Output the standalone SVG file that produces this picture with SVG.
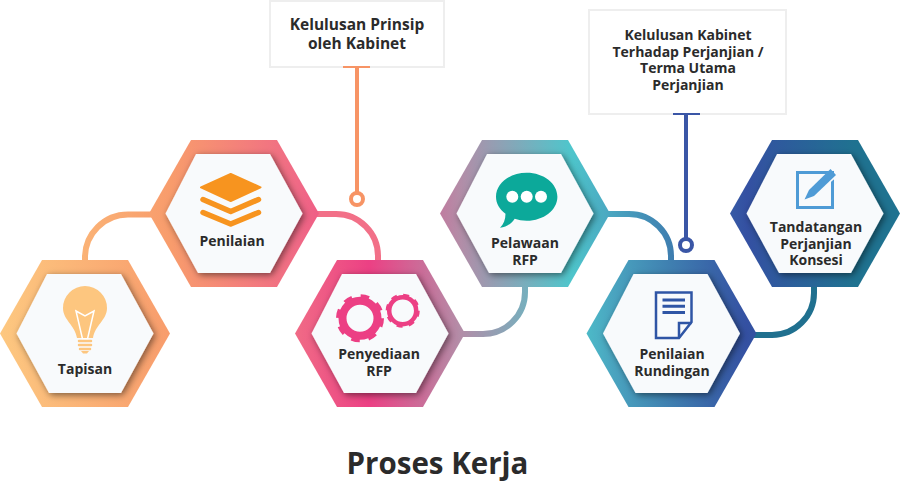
<svg xmlns="http://www.w3.org/2000/svg" width="900" height="489" viewBox="0 0 900 489">
<style>
text{font-family:"Open Sans","Noto Sans","Liberation Sans",sans-serif;font-weight:700;fill:#2b2b2b;text-anchor:middle;font-size:14px}
.title{font-size:29.500px}
.big{font-size:15.500px}
.box{fill:#fff;stroke:#eeeeee;stroke-width:2}
.outer{fill:url(#g)}
.inner{fill:#f8fafc;filter:url(#s)}
.conn{fill:none;stroke:url(#g);stroke-width:6}
</style>
<defs>
<linearGradient id="g" gradientUnits="userSpaceOnUse" x1="0" y1="0" x2="900" y2="0">
<stop offset="0" stop-color="#fdc880"/>
<stop offset=".19" stop-color="#f89c6c"/>
<stop offset=".33" stop-color="#f06a86"/>
<stop offset=".41" stop-color="#ec4084"/>
<stop offset=".51" stop-color="#b48ca7"/>
<stop offset=".635" stop-color="#4ec6cc"/>
<stop offset=".68" stop-color="#4aa5c0"/>
<stop offset=".745" stop-color="#3f7fb0"/>
<stop offset=".83" stop-color="#3450a2"/>
<stop offset=".95" stop-color="#1f7290"/>
</linearGradient>
<filter id="s" x="-20%" y="-20%" width="140%" height="140%"><feDropShadow dx="2" dy="2" stdDeviation="3.500" flood-color="#000" flood-opacity=".5"/></filter>
</defs>
<g id="connectors">
<path class="conn" d="M85 262V257.500A43 43 0 0 1 128 214.500H152"/>
<path class="conn" style="stroke:#f27088" d="M316 214H336A42 42 0 0 1 378 256V262"/>
<path class="conn" d="M525 285V292A42 42 0 0 1 483 334H462"/>
<path class="conn" d="M608 214H629A42 42 0 0 1 671 256V262"/>
<path class="conn" style="stroke:#20708f" d="M814 285V293A42 42 0 0 1 772 335H753"/>
</g>
<g id="node-tapisan">
<polygon class="outer" points="0,333.500 42,260 128,260 170,333.500 128,407 42,407"/>
<polygon class="inner" points="16.500,333.500 47,274 121,274 153.500,333.500 121,393 49,393"/>
<path fill="#fdc67f" d="M85 286a22 22 0 0 1 22 22c0 12-12 17-14 30h-16c-2-13-14-18-14-30a22 22 0 0 1 22-22z"/>
<path fill="none" stroke="#fff" stroke-width="1.500" d="M76 311L85 316L94 311L87.500 339H82.500z"/>
<path stroke="#fdc67f" stroke-width="2.500" stroke-linecap="round" d="M79 341H91M79 345H91M80 349H90"/>
<path fill="#fdc67f" d="M81 351h8l-2 2.500h-4z"/>
<text x="85" y="374">Tapisan</text>
</g>
<g id="node-penilaian">
<polygon class="outer" points="149,213.500 191,140 277,140 319,213.500 277,287 191,287"/>
<polygon class="inner" points="165.500,213.500 196,154 270,154 302.500,213.500 270,273 198,273"/>
<path fill="#f7941f" stroke="#f7941f" stroke-width="2" stroke-linejoin="round" d="M230.700 174L260.500 187.300L230.700 201L201 187.300z"/>
<path fill="none" stroke="#f7941f" stroke-width="5.500" stroke-linecap="round" stroke-linejoin="round" d="M203 199.500L230.700 211.500L258.500 199.500M203 212.500L230.700 224L258.500 212.500"/>
<text x="232" y="246">Penilaian</text>
</g>
<g id="node-penyediaan">
<polygon class="outer" points="295,333.500 337,260 423,260 465,333.500 423,407 337,407"/>
<polygon class="inner" points="311.500,333.500 342,274 416,274 448.500,333.500 416,393 344,393"/>
<g fill="none" stroke="#ec3f84">
<circle cx="360" cy="318.300" r="17.500" stroke-width="8"/>
<circle cx="360" cy="318.300" r="22" stroke-width="4" stroke-dasharray="8.500 8.780"/>
<circle cx="402.700" cy="310.700" r="13.500" stroke-width="4.500"/>
<circle cx="402.700" cy="310.700" r="15.800" stroke-width="2.500" stroke-dasharray="6 6.410"/>
</g>
<text x="379" y="359">Penyediaan<tspan x="379" dy="17">RFP</tspan></text>
</g>
<g id="node-pelawaan">
<polygon class="outer" points="440,213.500 482,140 568,140 610,213.500 568,287 482,287"/>
<polygon class="inner" points="456.500,213.500 487,154 561,154 593.500,213.500 561,273 489,273"/>
<path fill="#0ca99a" d="M526.700 172.700c17 0 30.700 10.700 30.700 24s-13.700 24-30.700 24c-4.500 0-8.500-.7-12-2-3.500 5-8.500 9-14.700 9 3.500-3.500 5.500-8 5.500-14-5.800-4.300-9.500-10.300-9.500-17 0-13.300 13.700-24 30.700-24z"/>
<g fill="#fff"><circle cx="512.300" cy="196.700" r="6"/><circle cx="526.700" cy="196.700" r="6"/><circle cx="541" cy="196.700" r="6"/></g>
<text x="525" y="248">Pelawaan<tspan x="525" dy="17">RFP</tspan></text>
</g>
<g id="node-rundingan">
<polygon class="outer" points="586.500,333.500 628.500,260 714.500,260 756.500,333.500 714.500,407 628.500,407"/>
<polygon class="inner" points="603,333.500 633.500,274 707.500,274 740,333.500 707.500,393 635.500,393"/>
<g fill="none" stroke="#2f55a5" stroke-width="2.500">
<path d="M656 292.500H691.500V322L679 338H656z"/>
<path d="M679 338V323H691.500"/>
<path stroke-width="3" d="M662.500 300H685M662.500 306.300H685M662.500 312.500H685"/>
</g>
<text x="672" y="359">Penilaian<tspan x="672" dy="17">Rundingan</tspan></text>
</g>
<g id="node-tandatangan">
<polygon class="outer" points="730,213.500 772,140 858,140 900,213.500 858,287 772,287"/>
<polygon class="inner" points="746.500,213.500 777,154 851,154 883.500,213.500 851,273 779,273"/>
<rect x="797.500" y="172.500" width="35" height="35" fill="none" stroke="#4f9bd6" stroke-width="3"/>
<path stroke="#f8fafc" stroke-width="9" d="M808 195.500L832 175"/>
<path fill="#4f9bd6" d="M830.500 169L836 175L814 196L804.500 199.500L809 190z"/>
<text x="816" y="232">Tandatangan<tspan x="816" dy="16.500">Perjanjian</tspan><tspan x="816" dy="16.500">Konsesi</tspan></text>
</g>
<g id="node-kelulusan-prinsip">
<rect class="box" x="270" y="1" width="174" height="66"/>
<text class="big" x="357" y="29.500">Kelulusan Prinsip<tspan x="357" dy="19">oleh Kabinet</tspan></text>
<path fill="none" stroke="#f79465" stroke-width="4" d="M357 67V193"/>
<path fill="none" stroke="#f79465" stroke-width="2" d="M343 67H370"/>
<circle cx="357" cy="199" r="6" fill="#fff" stroke="#f79465" stroke-width="4"/>
</g>
<g id="node-kelulusan-kabinet">
<rect class="box" x="589" y="10" width="197" height="104"/>
<text x="688" y="40">Kelulusan Kabinet<tspan x="688" dy="16.700">Terhadap Perjanjian /</tspan><tspan x="688" dy="16.700">Terma Utama</tspan><tspan x="688" dy="16.700">Perjanjian</tspan></text>
<path fill="none" stroke="#3a56a6" stroke-width="4" d="M686 114V239"/>
<path fill="none" stroke="#3a56a6" stroke-width="2" d="M673 114H700"/>
<circle cx="686" cy="245" r="6" fill="#fff" stroke="#3a56a6" stroke-width="4"/>
</g>
<text class="title" x="437.500" y="474">Proses Kerja</text>
</svg>
